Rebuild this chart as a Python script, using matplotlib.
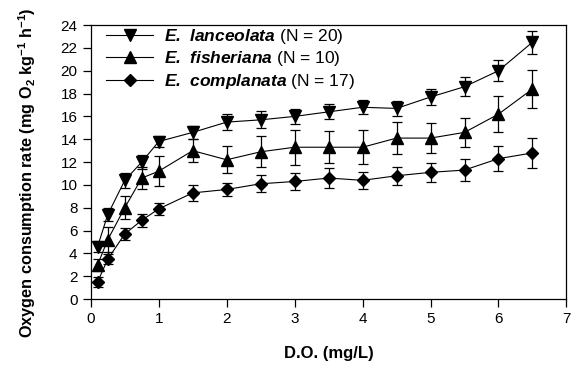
#!/usr/bin/env python3

import matplotlib

matplotlib.use("Agg")

import matplotlib.pyplot as plt

DO_MG_L = [0.1, 0.25, 0.5, 0.75, 1.0, 1.5, 2.0, 2.5, 3.0, 3.5, 4.0, 4.5, 5.0, 5.5, 6.0, 6.5]

LANCEOLATA = [4.6, 7.4, 10.4, 12.0, 13.8, 14.6, 15.5, 15.7, 16.0, 16.4, 16.8, 16.7, 17.7, 18.6, 20.0, 22.5]
LANCEOLATA_ERR = [0.45, 0.55, 0.65, 0.65, 0.5, 0.55, 0.7, 0.75, 0.67, 0.65, 0.6, 0.65, 0.7, 0.85, 0.9, 1.0]

FISHERIANA = [3.0, 5.2, 8.0, 10.6, 11.2, 13.0, 12.2, 12.9, 13.3, 13.3, 13.3, 14.1, 14.1, 14.6, 16.2, 18.4]
FISHERIANA_ERR = [0.5, 1.1, 1.0, 1.0, 1.3, 1.0, 1.2, 1.35, 1.55, 1.4, 1.5, 1.4, 1.3, 1.3, 1.55, 1.7]

COMPLANATA = [1.5, 3.5, 5.7, 6.9, 7.9, 9.3, 9.6, 10.1, 10.3, 10.6, 10.4, 10.8, 11.1, 11.3, 12.3, 12.8]
COMPLANATA_ERR = [0.4, 0.45, 0.5, 0.55, 0.55, 0.73, 0.6, 0.73, 0.77, 0.85, 0.73, 0.77, 0.85, 0.95, 1.1, 1.3]

LABELS = [
    r"$\mathbfit{E.\ lanceolata}$ (N = 20)",
    r"$\mathbfit{E.\ fisheriana}$ (N = 10)",
    r"$\mathbfit{E.\ complanata}$ (N = 17)",
]

plt.rcParams["font.family"] = ["Liberation Sans", "DejaVu Sans"]
plt.rcParams["mathtext.fontset"] = "custom"
plt.rcParams["mathtext.rm"] = "Liberation Sans"
plt.rcParams["mathtext.bf"] = "Liberation Sans:bold"
plt.rcParams["mathtext.bfit"] = "Liberation Sans:italic:bold"


def main() -> None:
    fig = plt.figure(figsize=(5.71, 3.80), dpi=100)
    ax = fig.add_axes([0.159, 0.213, 0.833, 0.721])

    series = [
        (LANCEOLATA, LANCEOLATA_ERR, "v", 8),
        (FISHERIANA, FISHERIANA_ERR, "^", 8),
        (COMPLANATA, COMPLANATA_ERR, "D", 6.5),
    ]
    for (values, errors, marker, size), label in zip(series, LABELS):
        ax.errorbar(
            DO_MG_L,
            values,
            yerr=errors,
            color="black",
            marker=marker,
            markersize=size,
            linewidth=0.8,
            elinewidth=0.9,
            capsize=3.5,
            capthick=0.9,
            label=label,
        )

    ax.set_xlim(0, 7)
    ax.set_ylim(0, 24)
    ax.set_xticks(range(0, 8))
    ax.set_yticks(range(0, 25, 2))
    ax.tick_params(direction="out", length=5.5, width=0.9, labelsize=11, pad=4)
    for spine in ax.spines.values():
        spine.set_linewidth(0.9)

    ax.set_xlabel("D.O. (mg/L)", fontsize=12, fontweight="bold", labelpad=14)
    ax.set_ylabel(
        r"Oxygen consumption rate (mg O$_\mathbf{2}$ kg$^\mathbf{-1}$ h$^\mathbf{-1}$)",
        fontsize=11.7,
        fontweight="bold",
    )
    ax.yaxis.set_label_coords(-0.112, 0.46)

    handles, labels = ax.get_legend_handles_labels()
    handles = [h[0] for h in handles]
    ax.legend(
        handles,
        labels,
        loc="upper left",
        bbox_to_anchor=(0.0, 1.05),
        frameon=False,
        fontsize=12.5,
        handlelength=2.7,
        handletextpad=0.6,
        labelspacing=0.2,
    )

    fig.savefig("out.png", dpi=100)
    plt.close(fig)


if __name__ == "__main__":
    main()
